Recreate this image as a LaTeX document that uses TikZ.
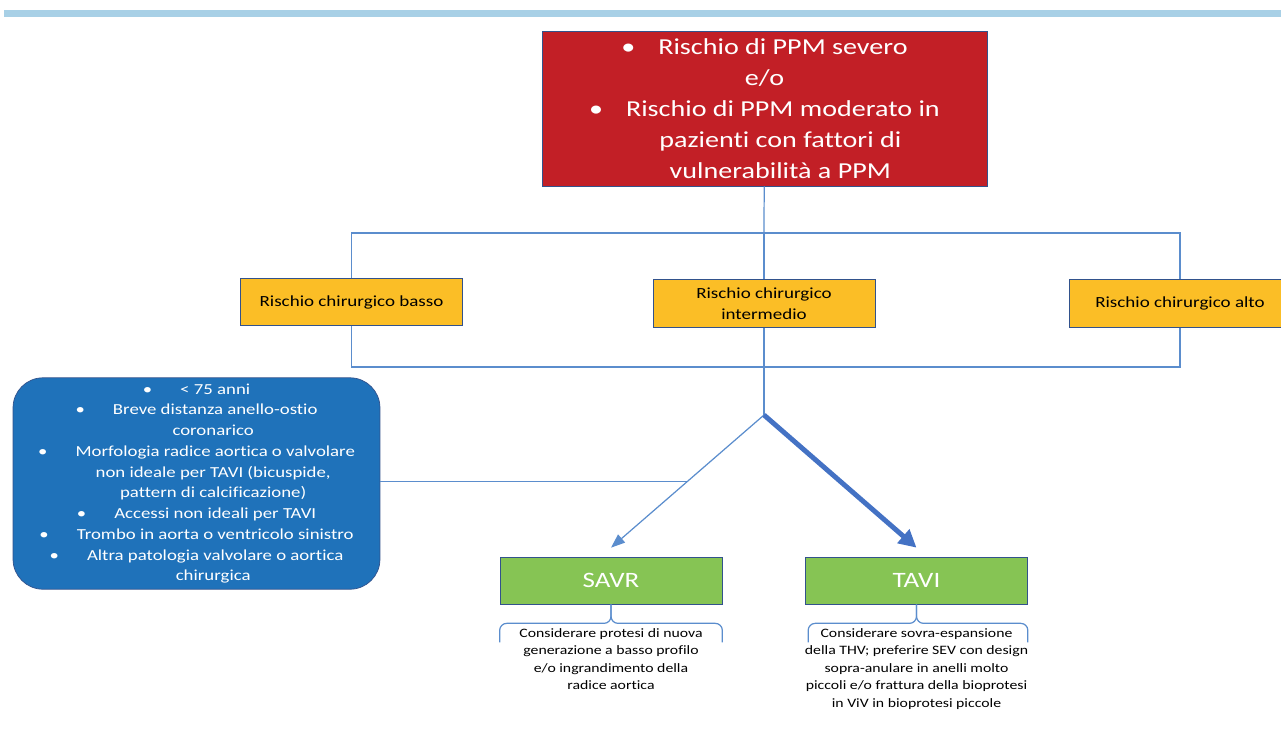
\documentclass[tikz,border=0pt]{standalone}
\usepackage{fontspec}
\setmainfont{Carlito}[FakeStretch=1.23, Ligatures=NoCommon]
\usetikzlibrary{arrows.meta, positioning, calc}
\definecolor{barblue}{RGB}{168,208,230}
\definecolor{ppmred}{RGB}{194,31,38}
\definecolor{riskorange}{RGB}{251,190,38}
\definecolor{choicegreen}{RGB}{134,196,84}
\definecolor{critblue}{RGB}{31,114,186}
\definecolor{edgeblue}{RGB}{50,82,140}
\definecolor{linkblue}{RGB}{91,141,205}
\definecolor{arrowblue}{RGB}{68,114,196}
\newcommand{\bpoint}[2]{\textbullet\hspace{#1}#2}

\begin{document}
\begin{tikzpicture}[x=0.02cm, y=-0.02cm,
  link/.style={draw=linkblue, line width=0.7pt},
  riskbox/.style={draw=edgeblue, fill=riskorange, minimum width=4.44cm, minimum height=0.95cm, inner sep=1pt, align=center, font=\fontsize{8.8}{12}\selectfont},
  choicebox/.style={draw=edgeblue, fill=choicegreen, text=white, minimum width=4.44cm, minimum height=0.94cm, font=\fontsize{12.5}{15}\selectfont},
  note/.style={align=center, inner sep=0pt, font=\fontsize{7.3}{10}\selectfont},
  bracket/.style={draw=linkblue, line width=0.7pt, rounded corners=4pt}]

  \useasboundingbox (0,0) rectangle (1281,735);
  \fill[barblue] (4,10) rectangle (1281,17);

  % starting condition
  \node[draw=edgeblue, fill=ppmred, text=white, minimum width=8.9cm, minimum height=3.1cm,
        align=center, font=\fontsize{13}{17.6}\selectfont] (ppm) at (764.5,108.5) {
    \bpoint{13pt}{Rischio di PPM severo}\\
    e/o\\
    \bpoint{13pt}{Rischio di PPM moderato in}\\
    \hspace*{18pt}pazienti con fattori di\\
    \hspace*{18pt}vulnerabilità a PPM
  };

  % surgical risk
  \node[riskbox] (low) at (351.5,302) {Rischio chirurgico basso};
  \node[riskbox] (mid) at (764,303.5) {Rischio chirurgico\\intermedio};
  \node[riskbox] (high) at (1180,303.5) {Rischio chirurgico alto};

  \coordinate (topbus) at (764,233);
  \coordinate (lowbus) at (764,367);
  \coordinate (split) at (764,415);

  \draw[link] (ppm) -- (topbus);
  \draw[link] (low.north) |- (topbus) -| (high.north);
  \draw[link] (topbus) -- (mid.north);
  \draw[link] (low.south) |- (lowbus) -| (high.south);
  \draw[link] (mid.south) -- (split);

  % factors in favour of SAVR
  \node[draw=edgeblue, fill=critblue, text=white, rounded corners=0.6cm, minimum width=7.34cm,
        minimum height=4.22cm, align=center, font=\fontsize{8.7}{11.8}\selectfont] (crit) at (196.5,483.5) {
    \bpoint{16pt}{< 75 anni}\\
    \bpoint{16pt}{Breve distanza anello-ostio}\\
    \hspace*{19pt}coronarico\\
    \bpoint{16pt}{Morfologia radice aortica o valvolare}\\
    \hspace*{19pt}non ideale per TAVI (bicuspide,\\
    \hspace*{19pt}pattern di calcificazione)\\
    \bpoint{16pt}{Accessi non ideali per TAVI}\\
    \bpoint{16pt}{Trombo in aorta o ventricolo sinistro}\\
    \bpoint{16pt}{Altra patologia valvolare o aortica}\\
    \hspace*{19pt}chirurgica
  };

  % treatment
  \node[choicebox] (savr) at (611,580.5) {SAVR};
  \node[choicebox] (tavi) at (916.5,580.5) {TAVI};

  \draw[link, -{Triangle[length=8pt,width=6pt]}] (split) -- ([yshift=0.18cm]savr.north);
  \draw[draw=arrowblue, line width=2.8pt, -{Triangle[length=10pt,width=10pt]}] (split) -- ([yshift=0.18cm]tavi.north);
  \coordinate (join) at ($(split)!0.5!([yshift=0.18cm]savr.north)$);
  \draw[link] (crit.east |- join) -- (join);

  \node[note, anchor=north] (savrnote) at (611,628) {Considerare protesi di nuova\\generazione a basso profilo\\e/o ingrandimento della\\radice aortica};
  \node[note, anchor=north] (tavinote) at (916.5,628) {Considerare sovra-espansione\\della THV; preferire SEV con design\\sopra-anulare in anelli molto\\piccoli e/o frattura della bioprotesi\\in ViV in bioprotesi piccole};

  \draw[bracket] ($(savr.south west)+(0,38)$) |- ($(savr.south)+(0,19)$) -- (savr.south);
  \draw[bracket] ($(savr.south east)+(0,38)$) |- ($(savr.south)+(0,19)$) -- (savr.south);
  \draw[bracket] ($(tavi.south west)+(3,38)$) |- ($(tavi.south)+(0,19)$) -- (tavi.south);
  \draw[bracket] ($(tavi.south east)+(0,38)$) |- ($(tavi.south)+(0,19)$) -- (tavi.south);
\end{tikzpicture}
\end{document}
